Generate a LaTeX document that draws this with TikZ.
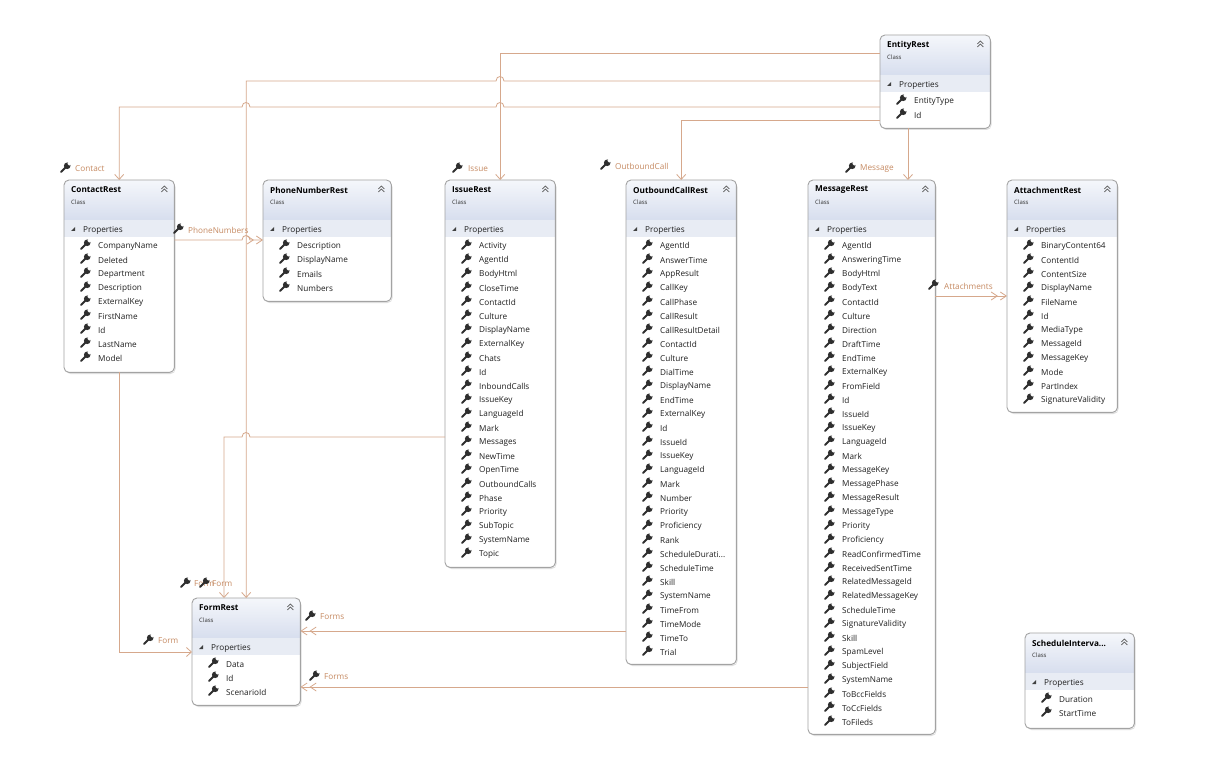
\documentclass[tikz,border=0pt]{standalone}
\usepackage{fontspec}
\setmainfont{Open Sans}
\usetikzlibrary{arrows.meta, calc}
\definecolor{assocline}{HTML}{D6A88C}
\definecolor{roletext}{HTML}{C68A62}
\definecolor{wrenchc}{HTML}{2E2E2E}
\definecolor{boxborder}{HTML}{A3A3A3}
\definecolor{hdrtop}{HTML}{F5F7FB}
\definecolor{hdrbot}{HTML}{D7DEEE}
\definecolor{propband}{HTML}{E8ECF4}
\newcommand{\cutdots}{.\kern0pt.\kern0pt.}
\tikzset{
    classbox/.style={
        rectangle, fill=white, inner sep=0pt
    },
    classshadow/.style={
        fill=black!13, rounded corners=5pt
    },
    classframe/.style={
        draw=boxborder, line width=0.9pt, rounded corners=5pt
    },
    classtitle/.style={
        font=\fontsize{8.2}{9}\selectfont\bfseries, inner sep=0pt, anchor=west
    },
    classkind/.style={
        font=\fontsize{6}{7}\selectfont, inner sep=0pt, anchor=west, text=black!80
    },
    proptext/.style={
        font=\fontsize{8.2}{9}\selectfont, inner sep=0pt, anchor=west, text=black!88
    },
    rolelabel/.style={
        font=\fontsize{8.2}{9}\selectfont, inner sep=0pt, anchor=west, text=roletext
    },
    assoc/.style={
        draw=assocline, line width=0.8pt,
        -{Straight Barb[length=5pt, width=9pt]}
    },
    coll/.style={
        draw=assocline, line width=0.8pt,
        -{Straight Barb[length=6pt, width=8pt, sep=2pt]Straight Barb[length=6pt, width=8pt]}
    },
    wrench/.pic={
        \draw[wrenchc, line width=1.8pt, line cap=round] (-4,4) -- (1,-1);
        \fill[wrenchc] (2.2,-2.2) circle (3.3pt);
        \fill[white] (4.2,-4.2) circle (1.8pt);
    }
}

% name, left, top, width, height, title, properties
\newcommand{\umlclass}[7]{%
    \fill[classshadow] (#2+1.5,#3+2) rectangle ++(#4,#5);
    \node[classbox, minimum width=#4, minimum height=#5, anchor=north west] (#1) at (#2,#3) {};
    \begin{scope}
        \clip[rounded corners=5pt] (#1.north west) rectangle (#1.south east);
        \shade[top color=hdrtop, bottom color=hdrbot] (#1.north west) rectangle ($(#1.north east)+(0,40)$);
        \fill[propband] ($(#1.north west)+(0,40)$) rectangle ($(#1.north east)+(0,57)$);
    \end{scope}
    \draw[classframe] (#1.north west) rectangle (#1.south east);
    \node[classtitle] (#1-title) at ($(#1.north west)+(7,10)$) {#6};
    \node[classkind] (#1-kind) at ($(#1.north west)+(7,22.5)$) {Class};
    \draw[black!65, line width=0.6pt] ($(#1.north east)+(-13,9)$) -- ++(3,-3) -- ++(3,3)
                                      ($(#1.north east)+(-13,12)$) -- ++(3,-3) -- ++(3,3);
    \fill[black!75] ($(#1.north west)+(11,47)$) -- ++(0,4) -- ++(-4,0) -- cycle;
    \node[proptext] (#1-props) at ($(#1.north west)+(19,50)$) {Properties};
    \foreach \p [count=\i] in {#7} {
        \pic at ($(#1.north west)+(21,{65+14*(\i-1)})$) {wrench};
        \node[proptext] (#1-\i) at ($(#1.north west)+(34,{66.5+14*(\i-1)})$) {\p};
    }
}

\begin{document}
\begin{tikzpicture}[x=1pt, y=-1pt]

    \fill[white] (0,0) rectangle (1215,759);
    \useasboundingbox (0,0) rectangle (1215,759);

    % classes
    \umlclass{entity}{880}{35}{110}{93}{EntityRest}{EntityType, Id}
    \umlclass{contact}{64}{180}{110}{192}{ContactRest}
        {CompanyName, Deleted, Department, Description, ExternalKey, FirstName, Id, LastName, Model}
    \umlclass{phone}{263}{180}{128}{121}{PhoneNumberRest}
        {Description, DisplayName, Emails, Numbers}
    \umlclass{issue}{445}{180}{110}{387}{IssueRest}
        {Activity, AgentId, BodyHtml, CloseTime, ContactId, Culture, DisplayName, ExternalKey, Chats, Id,
         InboundCalls, IssueKey, LanguageId, Mark, Messages, NewTime, OpenTime, OutboundCalls, Phase,
         Priority, SubTopic, SystemName, Topic}
    \umlclass{outbound}{626}{180}{110}{484}{OutboundCallRest}
        {AgentId, AnswerTime, AppResult, CallKey, CallPhase, CallResult, CallResultDetail, ContactId,
         Culture, DialTime, DisplayName, EndTime, ExternalKey, Id, IssueId, IssueKey, LanguageId, Mark,
         Number, Priority, Proficiency, Rank, ScheduleDurati\cutdots, ScheduleTime, Skill, SystemName,
         TimeFrom, TimeMode, TimeTo, Trial}
    \umlclass{message}{808}{180}{127}{554}{MessageRest}
        {AgentId, AnsweringTime, BodyHtml, BodyText, ContactId, Culture, Direction, DraftTime, EndTime,
         ExternalKey, FromField, Id, IssueId, IssueKey, LanguageId, Mark, MessageKey, MessagePhase,
         MessageResult, MessageType, Priority, Proficiency, ReadConfirmedTime, ReceivedSentTime,
         RelatedMessageId, RelatedMessageKey, ScheduleTime, SignatureValidity, Skill, SpamLevel,
         SubjectField, SystemName, ToBccFields, ToCcFields, ToFileds}
    \umlclass{attach}{1007}{180}{110}{232}{AttachmentRest}
        {BinaryContent64, ContentId, ContentSize, DisplayName, FileName, Id, MediaType, MessageId,
         MessageKey, Mode, PartIndex, SignatureValidity}
    \umlclass{form}{192}{598}{108}{107}{FormRest}{Data, Id, ScenarioId}
    \umlclass{sched}{1025}{633}{109}{95}{ScheduleInterva\cutdots}{Duration, StartTime}

    % associations from EntityRest
    \draw[assoc] (entity.west |- 0,53) -| (issue.north);
    \draw[assoc] (entity.west |- 0,81) -- (504,81) .. controls (504,75) and (496,75) .. (496,81)
        -| (form.north);
    \draw[assoc] (entity.west |- 0,107) -- (504,107) .. controls (504,101) and (496,101) .. (496,107)
        -- (250,107) .. controls (250,101) and (242,101) .. (242,107) -| (contact.north);
    \draw[assoc] (entity.west |- 0,120) -| (outbound.north);
    \draw[assoc] (entity.south -| 908,0) -- (message.north -| 908,0);

    % other associations
    \draw[coll] (contact.east |- 0,240) -- (242,240) .. controls (242,234) and (250,234) .. (250,240)
        -- (phone.west |- 0,240);
    \draw[assoc] (contact.south) |- (form.west |- 0,652);
    \draw[assoc] (issue.west |- 0,437) -- (250,437) .. controls (250,431) and (242,431) .. (242,437)
        -| (form.north -| 224,0);
    \draw[coll] (outbound.west |- 0,631) -- (form.east |- 0,631);
    \draw[coll] (message.west |- 0,687) -- (form.east |- 0,687);
    \draw[coll] (message.east |- 0,296) -- (attach.west |- 0,296);

    % role labels
    \pic at (65,168) {wrench};   \node[rolelabel] (r-contact) at (75,169) {Contact};
    \pic at (457,168) {wrench};  \node[rolelabel] (r-issue) at (468,169) {Issue};
    \pic at (605,165) {wrench};  \node[rolelabel] (r-outbound) at (615,166) {OutboundCall};
    \pic at (850,168) {wrench};  \node[rolelabel] (r-message) at (860,169) {Message};
    \pic at (178,229) {wrench};  \node[rolelabel] (r-phone) at (188,230) {PhoneNumbers};
    \pic at (148,640) {wrench};  \node[rolelabel] (r-form) at (158,641) {Form};
    \pic at (185,583) {wrench};  \node[rolelabel] (r-form2) at (194,584) {Form};
    \pic at (204,583) {wrench};  \node[rolelabel] (r-form3) at (212,584) {Form};
    \pic at (310,616) {wrench};  \node[rolelabel] (r-forms) at (320,617) {Forms};
    \pic at (314,676) {wrench};  \node[rolelabel] (r-forms2) at (324,677) {Forms};
    \pic at (933,285) {wrench};  \node[rolelabel] (r-attach) at (944,286) {Attachments};

\end{tikzpicture}
\end{document}
